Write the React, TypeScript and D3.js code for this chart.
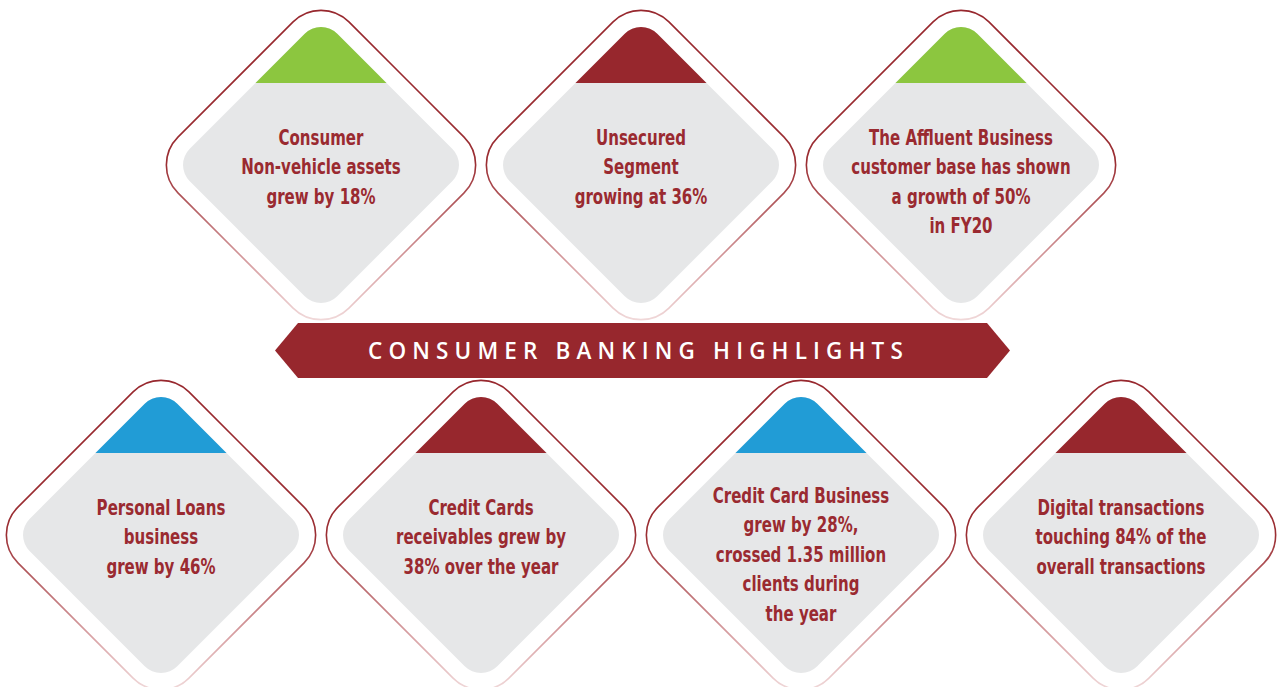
import React from 'react';
import * as d3 from 'd3';

// card texts, top row (3 cards) and bottom row (4 cards)
const topLines: string[][] = [
  ['Consumer', 'Non-vehicle assets', 'grew by 18%'],
  ['Unsecured', 'Segment', 'growing at 36%'],
  ['The Affluent Business', 'customer base has shown', 'a growth of 50%', 'in FY20'],
];
const topCaps = ['green', 'red', 'green'];

const bottomLines: string[][] = [
  ['Personal Loans', 'business', 'grew by 46%'],
  ['Credit Cards', 'receivables grew by', '38% over the year'],
  ['Credit Card Business', 'grew by 28%,', 'crossed 1.35 million', 'clients during', 'the year'],
  ['Digital transactions', 'touching 84% of the', 'overall transactions'],
];
const bottomCaps = ['blue', 'red', 'blue', 'red'];

const title = 'CONSUMER BANKING HIGHLIGHTS';

const capColor: Record<string, string> = {
  green: '#8cc63f',
  red: '#97272d',
  blue: '#219cd6',
};

const W = 1279;
const H = 687;
const textColor = '#9a2a30';
const cardFont = "'Liberation Sans Narrow', 'DejaVu Sans Condensed', 'Arial Narrow', sans-serif";

// rounded diamond centred on 0,0 with half-diagonal h and corner radius r
function diamond(h: number, r: number) {
  const p = d3.path();
  p.moveTo(h / 2, -h / 2);
  p.arcTo(h, 0, h / 2, h / 2, r);
  p.arcTo(0, h, -h / 2, h / 2, r);
  p.arcTo(-h, 0, -h / 2, -h / 2, r);
  p.arcTo(0, -h, h / 2, -h / 2, r);
  p.closePath();
  return p.toString();
}

const x = d3.scaleLinear().domain([0, 4]).range([1, 1281]);
const rowY = d3.scaleOrdinal<string, number>().domain(['top', 'bottom']).range([165, 535]);
const lineY = d3.scaleLinear().domain([0, 1]).range([0, 29.5]);

const innerPath = diamond(147.5, 23);
const outerPath = diamond(171, 39.5);

function Card({ cx, cy, lines, cap }: { cx: number; cy: number; lines: string[]; cap: string }) {
  const start = lines.length >= 5 ? -40 : -28;
  return (
    <g transform={`translate(${cx},${cy})`}>
      <path d={outerPath} fill="#fff" stroke="url(#ringGrad)" strokeWidth={1.6} />
      <path d={innerPath} fill="#e6e7e8" />
      <rect x={-200} y={-200} width={400} height={118} fill={capColor[cap]} clipPath="url(#innerClip)" />
      <text
        fill={textColor}
        fontFamily={cardFont}
        fontWeight="bold"
        fontSize={22}
        textAnchor="middle"
        transform="scale(0.76,1)"
      >
        {lines.map((t, i) => (
          <tspan key={i} x={0} y={start + lineY(i)} dy="0.36em">
            {t}
          </tspan>
        ))}
      </text>
    </g>
  );
}

export default function App() {
  const bannerTop = 323;
  const bannerBottom = 378;
  const bannerMid = (bannerTop + bannerBottom) / 2;
  const bl = 275;
  const br = 1010;
  const notch = 23;
  const banner = d3.line()([
    [bl, bannerMid],
    [bl + notch, bannerTop],
    [br - notch, bannerTop],
    [br, bannerMid],
    [br - notch, bannerBottom],
    [bl + notch, bannerBottom],
  ]) + 'Z';

  return (
    <svg
      width={W}
      height={H}
      viewBox={`0 0 ${W} ${H}`}
      style={{ position: 'absolute', left: 0, top: 0, background: '#fff' }}
    >
      <defs>
        <linearGradient id="ringGrad" gradientUnits="userSpaceOnUse" x1={0} y1={-171} x2={0} y2={171}>
          <stop offset="0" stopColor="#97272d" />
          <stop offset="0.5" stopColor="#9b2e33" />
          <stop offset="0.8" stopColor="#d9a3a6" />
          <stop offset="1" stopColor="#f7e8e8" />
        </linearGradient>
        <clipPath id="innerClip">
          <path d={innerPath} />
        </clipPath>
      </defs>

      {topLines.map((lines, i) => (
        <Card key={`t${i}`} cx={x(i + 1)} cy={rowY('top')} lines={lines} cap={topCaps[i]} />
      ))}
      {bottomLines.map((lines, i) => (
        <Card key={`b${i}`} cx={x(i + 0.5)} cy={rowY('bottom')} lines={lines} cap={bottomCaps[i]} />
      ))}

      <path d={banner} fill="#97272d" />
      <text
        x={(bl + br) / 2 - 4}
        y={bannerMid}
        dy="0.36em"
        textAnchor="middle"
        fill="#fff"
        fontFamily="'Open Sans', 'Noto Sans', sans-serif"
        fontWeight={600}
        fontSize={22.5}
        letterSpacing={6.15}
      >
        {title}
      </text>
    </svg>
  );
}
